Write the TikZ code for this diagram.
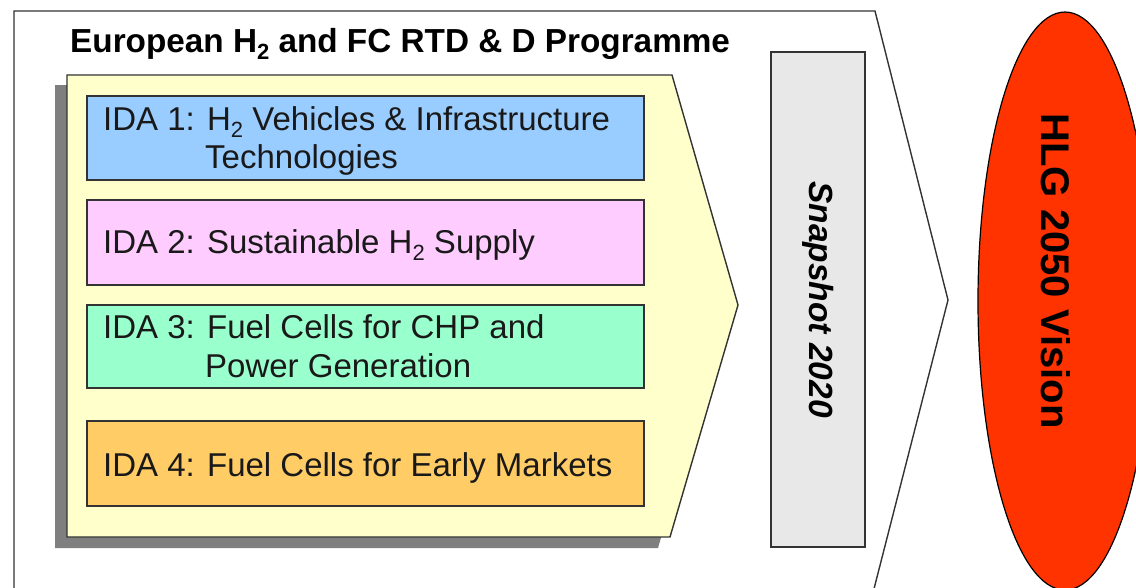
\documentclass[tikz,border=0pt]{standalone}
\usepackage{fontspec}
\setmainfont{Liberation Sans}
\definecolor{idablue}{HTML}{99CCFF}
\definecolor{idapink}{HTML}{FFCCFF}
\definecolor{idagreen}{HTML}{99FFCC}
\definecolor{idaorange}{HTML}{FFCC66}
\definecolor{chevyellow}{HTML}{FFFFCC}
\definecolor{snapgray}{HTML}{E8E8E8}
\definecolor{visionred}{HTML}{FF3300}
\definecolor{edgec}{HTML}{333333}
\definecolor{shadowc}{HTML}{7F7F7F}
\newcommand\Htwo{H\raisebox{-7pt}{\fontsize{22}{22}\selectfont 2}}
\tikzset{
  idabox/.style={draw=edgec, line width=1.4pt, rectangle, inner sep=0pt, minimum width=557pt},
  idatext/.style={anchor=base west, inner sep=0pt, font=\fontsize{33}{38}\selectfont, text=black!90},
  outline/.style={draw=edgec, line width=1.4pt},
}
\begin{document}
\begin{tikzpicture}[x=1pt,y=-1pt]
\useasboundingbox (0,0) rectangle (1136,587);
\clip (0,0) rectangle (1136,587);
\fill[white] (0,0) rectangle (1136,587);
% outer programme arrow
\draw[outline, fill=white] (14,620) -- (14,11) -- (875,11) -- (948,300) -- (866,620);
% title
\node[anchor=base west, inner sep=0pt, font=\fontsize{33.3}{38}\selectfont\bfseries] (title) at (70,52) {European \Htwo{} and FC RTD \& D Programme};
% chevron with shadow
\fill[shadowc] (55,85) -- (660,85) -- (726,315) -- (658,548) -- (55,548) -- cycle;
\draw[outline, fill=chevyellow] (67,75) -- (672,75) -- (738,305) -- (670,537) -- (67,537) -- cycle;
% IDA boxes
\node[idabox, fill=idablue, minimum height=84pt] (ida1) at (365.5,138) {};
\node[idabox, fill=idapink, minimum height=85pt] (ida2) at (365.5,242.5) {};
\node[idabox, fill=idagreen, minimum height=83pt] (ida3) at (365.5,346.5) {};
\node[idabox, fill=idaorange, minimum height=85pt] (ida4) at (365.5,463.5) {};
\node[idatext] (ida1a) at (103,130) {IDA 1: \Htwo{} Vehicles \& Infrastructure};
\node[idatext] (ida1b) at (205,168) {Technologies};
\node[idatext] (ida2a) at (103,253) {IDA 2: Sustainable \Htwo{} Supply};
\node[idatext] (ida3a) at (103,338) {IDA 3: Fuel Cells for CHP and};
\node[idatext] (ida3b) at (205,377) {Power Generation};
\node[idatext] (ida4a) at (103,476) {IDA 4: Fuel Cells for Early Markets};
% snapshot
\node[draw=edgec, line width=1.4pt, fill=snapgray, rectangle, minimum width=94pt, minimum height=495pt, inner sep=0pt] (snap) at (818,299.5) {};
\node[rotate=-90, inner sep=0pt, font=\fontsize{33.5}{38}\selectfont\bfseries\itshape] (snaptext) at (snap.center) {Snapshot 2020};
% vision ellipse
\draw[draw=black, line width=1.2pt, fill=visionred] (1065,301) ellipse [x radius=87, y radius=289];
\coordinate (visc) at (1056,271);
\node[rotate=-90, inner sep=0pt, font=\fontsize{40}{44}\selectfont\bfseries] (vision) at (visc) {HLG 2050 Vision};
\end{tikzpicture}
\end{document}
